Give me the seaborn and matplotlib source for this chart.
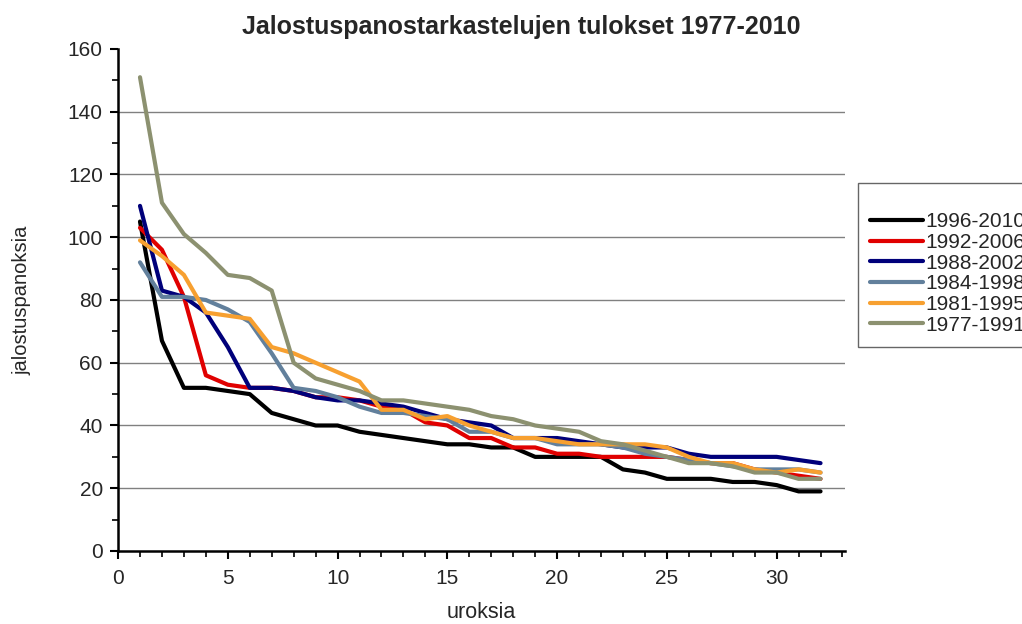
import pandas as pd
import seaborn as sns
import numpy as np
import matplotlib.pyplot as plt
from matplotlib.ticker import MultipleLocator

sns.set_style("ticks")
plt.rcParams['font.family'] = ['Liberation Sans', 'DejaVu Sans']

# data (x = 1..32)
uroksia = list(range(1, 33))
p1996_2010 = [105, 67, 52, 52, 51, 50, 44, 42, 40, 40, 38, 37, 36, 35, 34, 34,
              33, 33, 30, 30, 30, 30, 26, 25, 23, 23, 23, 22, 22, 21, 19, 19]
p1992_2006 = [103, 96, 81, 56, 53, 52, 52, 51, 49, 49, 48, 46, 45, 41, 40, 36,
              36, 33, 33, 31, 31, 30, 30, 30, 30, 29, 28, 28, 26, 25, 24, 23]
p1988_2002 = [110, 83, 81, 76, 65, 52, 52, 51, 49, 48, 48, 47, 46, 44, 42, 41,
              40, 36, 36, 36, 35, 34, 33, 33, 33, 31, 30, 30, 30, 30, 29, 28]
p1984_1998 = [92, 81, 81, 80, 77, 73, 63, 52, 51, 49, 46, 44, 44, 43, 42, 38,
              38, 36, 36, 34, 34, 34, 33, 31, 30, 29, 28, 27, 26, 26, 26, 25]
p1981_1995 = [99, 94, 88, 76, 75, 74, 65, 63, 60, 57, 54, 45, 45, 42, 43, 40,
              38, 36, 36, 35, 34, 34, 34, 34, 33, 30, 28, 28, 26, 25, 26, 25]
p1977_1991 = [151, 111, 101, 95, 88, 87, 83, 60, 55, 53, 51, 48, 48, 47, 46, 45,
              43, 42, 40, 39, 38, 35, 34, 32, 30, 28, 28, 27, 25, 25, 23, 23]

series = {
    "1996-2010": p1996_2010,
    "1992-2006": p1992_2006,
    "1988-2002": p1988_2002,
    "1984-1998": p1984_1998,
    "1981-1995": p1981_1995,
    "1977-1991": p1977_1991,
}
colors = ["#000000", "#e00000", "#00007a", "#62809c", "#f7a030", "#8c9170"]

df = pd.DataFrame({"uroksia": uroksia, **series})
long_df = df.melt(id_vars="uroksia", var_name="jakso", value_name="jalostuspanoksia")

fig = plt.figure(figsize=(10.22, 6.24), dpi=100)
ax = fig.add_axes([0.1155, 0.117, 0.711, 0.8045])

#gridlines first so the lines sit on top
for g in range(20, 160, 20):
    ax.axhline(g, color="#808080", lw=1, zorder=0)

sns.lineplot(data=long_df, x="uroksia", y="jalostuspanoksia", hue="jakso",
             palette=colors, linewidth=3, ax=ax, legend=True)

ax.set_xlim(0, 33.1)
ax.set_ylim(0, 160)
ax.xaxis.set_major_locator(MultipleLocator(5))
ax.xaxis.set_minor_locator(MultipleLocator(1))
ax.yaxis.set_major_locator(MultipleLocator(20))
ax.yaxis.set_minor_locator(MultipleLocator(10))
ax.tick_params(axis="both", which="major", length=6, width=1.5, labelsize=15, color="black")
ax.tick_params(axis="both", which="minor", length=4, width=1.2, color="black")
ax.tick_params(axis="x", pad=7)
ax.tick_params(axis="y", pad=5)
sns.despine(ax=ax)
for s in ["left", "bottom"]:
    ax.spines[s].set_linewidth(1.8)
    ax.spines[s].set_color("black")

ax.set_xlabel("uroksia", fontsize=15.5, labelpad=10)
ax.set_ylabel("jalostuspanoksia", fontsize=14.5, labelpad=26)
fig.text(0.51, 0.957, "Jalostuspanostarkastelujen tulokset 1977-2010",
         ha="center", va="center", fontsize=18, fontweight="bold")

leg = ax.legend(loc="upper left", bbox_to_anchor=(0.8395, 0.7067),
                bbox_transform=fig.transFigure, frameon=True, fancybox=False,
                fontsize=15, handlelength=2.5, handletextpad=0.15,
                labelspacing=0.08, borderpad=0.6, borderaxespad=0,
                title=" ", title_fontsize=12)
leg.get_frame().set_edgecolor("#404040")
leg.get_frame().set_linewidth(1)

plt.savefig("out.png", dpi=100)
